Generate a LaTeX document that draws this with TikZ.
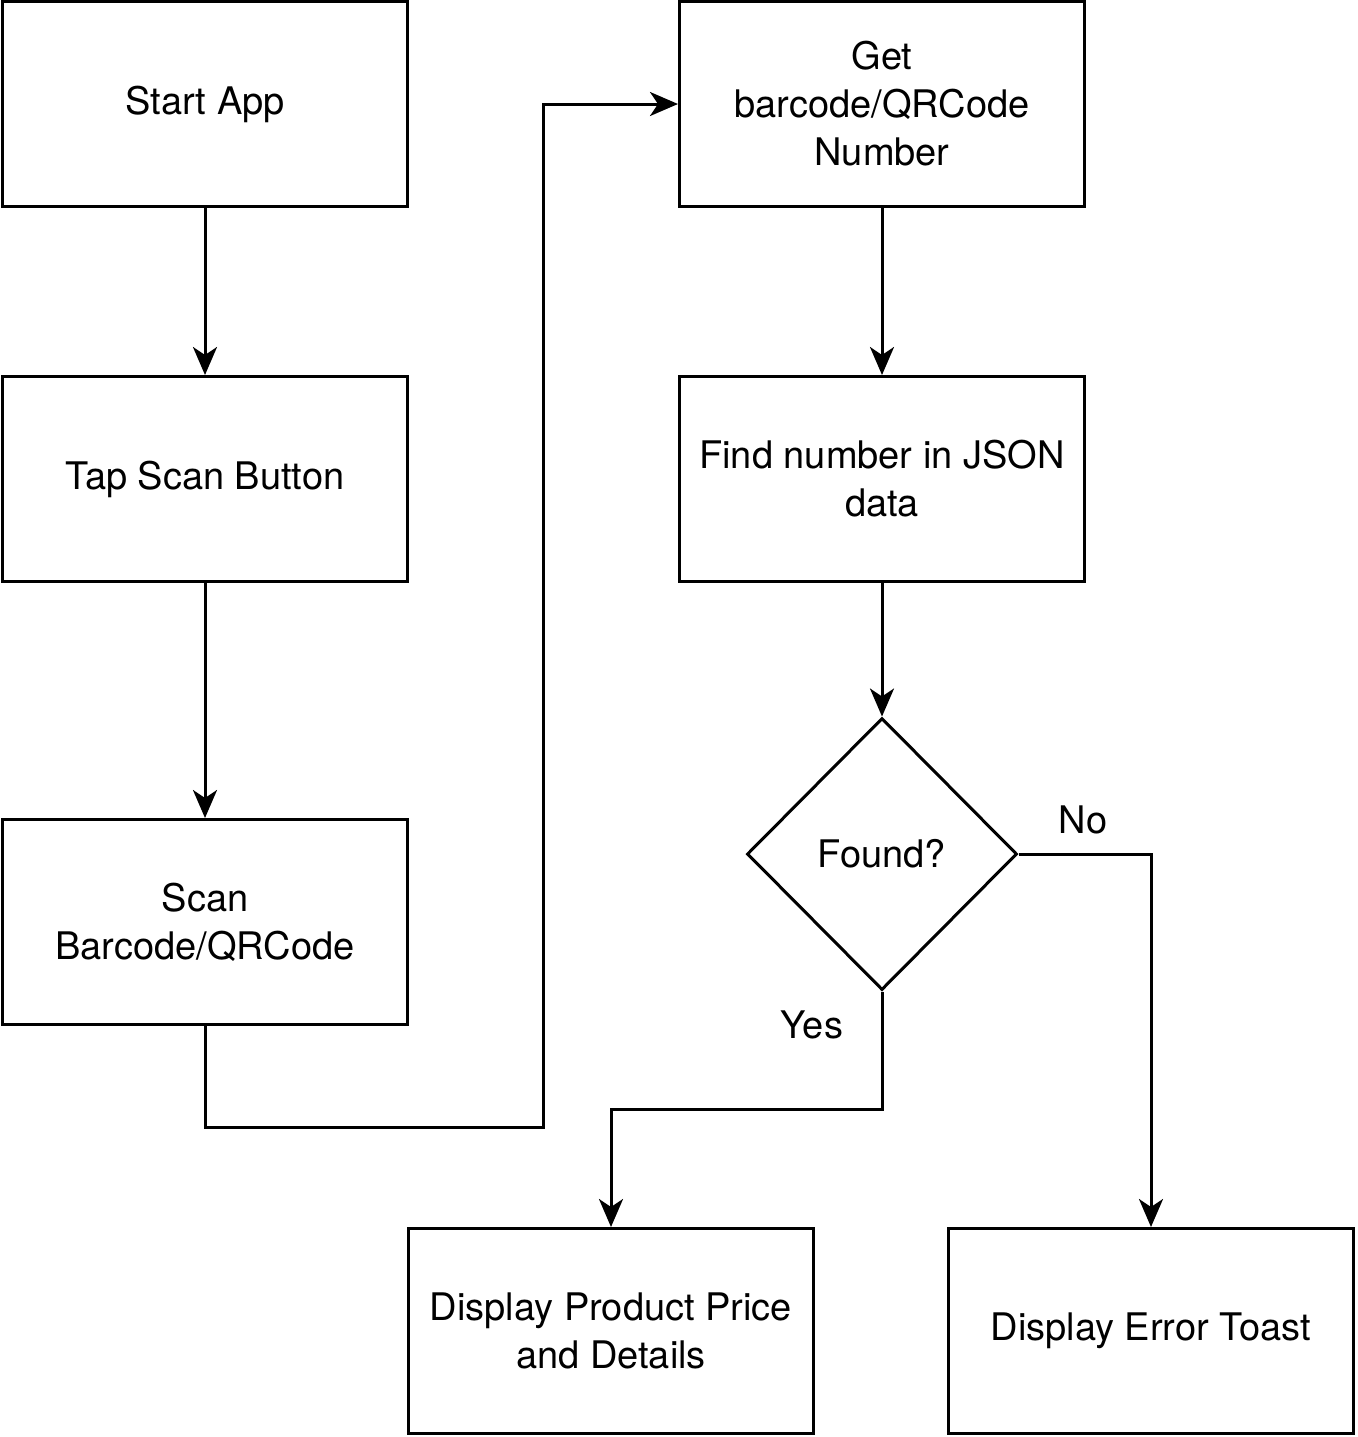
\documentclass[tikz,border=0pt]{standalone}
\usepackage{fontspec}
\setmainfont{TeX Gyre Heros}
\usetikzlibrary{shapes.geometric,arrows.meta}
\tikzset{every picture/.style={line width=1.5pt}}
\tikzset{
  process/.style={draw, minimum width=202.5pt, minimum height=102.5pt, align=center, inner sep=1pt, font=\fontsize{19}{24}\selectfont},
  decision/.style={draw, diamond, minimum width=135pt, minimum height=136pt, inner sep=0pt, font=\fontsize{19}{24}\selectfont},
  flow/.style={-{Stealth[length=14pt,width=12pt,inset=4pt]}},
  lbl/.style={font=\fontsize{19}{24}\selectfont}
}
\begin{document}
\begin{tikzpicture}[x=0.5pt,y=-0.5pt]
\useasboundingbox (0,0) rectangle (1358,1437);

% Left column
\node [process] (start) at (205,104) {Start App};
\node [process] (tap) at (205,479) {Tap Scan Button};
\node [process] (scan) at (205,922) {Scan\\Barcode/QRCode};
% Right column
\node [process] (get) at (882,104) {Get\\barcode/QRCode\\Number};
\node [process] (find) at (882,479) {Find number in JSON\\data};
\node [decision] (found) at (882,854) {Found?};
\node [process] (show) at (611,1331) {Display Product Price\\and Details};
\node [process] (error) at (1151,1331) {Display Error Toast};

% Connectors
\draw [flow] (start) -- (tap);
\draw [flow] (tap) -- (scan);
\draw [flow] (scan.south) |- (543,1127) |- (get.west);
\draw [flow] (get) -- (find);
\draw [flow] (find) -- (found);
\draw [flow] (found.south) |- (611,1109) -- (show.north);
\draw [flow] (found.east) -| (error.north);

% Labels
\node [lbl] (no) at (1083,820) {No};
\node [lbl] (yes) at (812,1025) {Yes};
\end{tikzpicture}
\end{document}
